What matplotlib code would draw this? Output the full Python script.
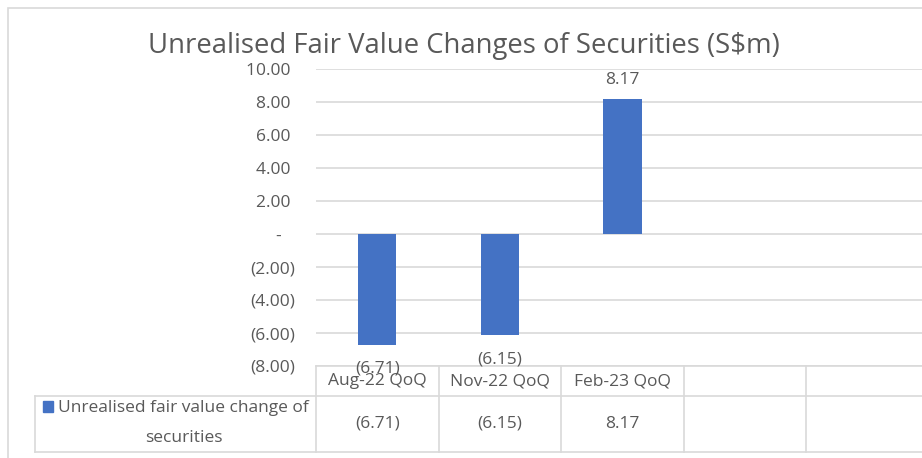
import matplotlib.pyplot as plt
import matplotlib.transforms as mtransforms
from matplotlib.patches import Rectangle
from matplotlib.lines import Line2D

plt.rcParams['font.family'] = ['Open Sans', 'DejaVu Sans']

# Data
categories = ['Aug-22 QoQ', 'Nov-22 QoQ', 'Feb-23 QoQ', '', '']
values = [-6.71, -6.15, 8.17]
series_name = ['Unrealised fair value change of', 'securities']
yticks = [10, 8, 6, 4, 2, 0, -2, -4, -6, -8]
title = 'Unrealised Fair Value Changes of Securities (S$m)'

bar_color = '#4472C4'
text_color = '#595959'
grid_color = '#d9d9d9'
W, H = 922, 458
fs = 12.5


def fmt(v):
    if v < 0:
        return f'({abs(v):.2f})'
    return f'{v:.2f}'


def fmt_tick(v):
    if v == 0:
        return '-   '
    if v < 0:
        return f'({abs(v):.2f})'
    return f'{v:.2f} '


fig = plt.figure(figsize=(W / 100, H / 100), dpi=100)
ax = fig.add_axes([316 / W, 1 - 366 / H, 613 / W, 297 / H])

# Outer chart border
fig.add_artist(Rectangle((8 / W, -0.1), 1.2, 1 - 8 / H + 0.1, transform=fig.transFigure,
                         fill=False, edgecolor=grid_color, lw=1.2))

# Bars
xs = list(range(len(values)))
ax.bar(xs, values, width=0.31, color=bar_color, zorder=3)
for x, v in zip(xs, values):
    off = 14 if v > 0 else -17
    ax.annotate(fmt(v), (x, v), xytext=(0, off), textcoords='offset points',
                ha='center', va='center', fontsize=fs, color=text_color, zorder=4)

# Axes
ax.set_xlim(-0.5, len(categories) - 0.5)
ax.set_ylim(-8, 10)
ax.set_yticks(yticks)
ax.set_yticklabels([fmt_tick(t) for t in yticks])
ax.yaxis.grid(True, color=grid_color, lw=1.2, zorder=0)
ax.set_xticks([])
ax.tick_params(axis='y', length=0, pad=15, labelsize=fs, labelcolor=text_color)
for s in ax.spines.values():
    s.set_visible(False)

# Data table
xt = ax.get_xaxis_transform()
ft = mtransforms.blended_transform_factory(fig.transFigure, ax.transAxes)
row1 = -(396 - 366) / 297
row2 = -(452 - 366) / 297
x_left = -0.5
x_right = len(categories) - 0.5
line_kw = dict(color=grid_color, lw=1.2, clip_on=False)

ax.add_line(Line2D([x_left, x_right + 1], [0, 0], transform=xt, **line_kw))
for y in (row1, row2):
    ax.add_line(Line2D([35 / W, 1.1], [y, y], transform=ft, **line_kw))
for i in range(len(categories) + 1):
    ax.add_line(Line2D([i - 0.5, i - 0.5], [0, row2], transform=xt, **line_kw))
ax.add_line(Line2D([35 / W, 35 / W], [row1, row2], transform=ft, **line_kw))

for i, c in enumerate(categories):
    ax.text(i, row1 / 2, c, transform=xt, ha='center', va='center',
            fontsize=fs, color=text_color)
for i, v in enumerate(values):
    ax.text(i, (row1 + row2) / 2, fmt(v), transform=xt, ha='center', va='center',
            fontsize=fs, color=text_color)

# Legend key in table
fig.add_artist(Rectangle((43 / W, 1 - 412 / H), 10 / W, 11 / H, transform=fig.transFigure,
                         color=bar_color))
fig.text(58 / W, 1 - 408 / H, series_name[0], ha='left', va='center',
         fontsize=fs, color=text_color)
fig.text(184 / W, 1 - 438 / H, series_name[1], ha='center', va='center',
         fontsize=fs, color=text_color)

# Title
fig.text(464 / W, 1 - 46 / H, title, ha='center', va='center', fontsize=19.8, color=text_color)

fig.savefig('out.png', dpi=100)
